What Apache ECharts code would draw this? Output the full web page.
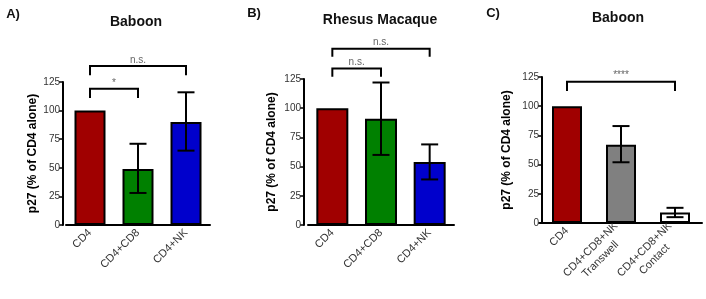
<!DOCTYPE html>
<html>
<head>
<meta charset="utf-8">
<script src="https://cdn.jsdelivr.net/npm/echarts@6/dist/echarts.min.js"></script>
<style>
  html, body { margin: 0; padding: 0; background: #fff; }
  #chart { width: 706px; height: 299px; }
</style>
</head>
<body>
<div id="chart"></div>
<script>
// panel A - baboon
const catsA = ['CD4', 'CD4+CD8', 'CD4+NK'];
const valuesA = [100, 49, 90];
const errA = [[1, 28, 71], [2, 65, 116]];          // [category, low, high]
const bracketsA = [[0, 2, 139, 131, 'n.s.'], [0, 1, 119, 111, '*']]; // [from, to, top, bottom, text]

// panel B - rhesus macaque
const catsB = ['CD4', 'CD4+CD8', 'CD4+NK'];
const valuesB = [100, 91, 54];
const errB = [[1, 60, 122], [2, 39, 69]];
const bracketsB = [[0, 2, 151, 144, 'n.s.'], [0, 1, 134, 127, 'n.s.']];

// panel C - baboon, transwell vs contact
const catsC = ['CD4', 'CD4+CD8+NK\nTranswell', 'CD4+CD8+NK\nContact'];
const valuesC = [100, 67, 9];
const errC = [[1, 52, 83], [2, 5, 13]];
const bracketsC = [[0, 2, 121, 113, '****']];

const yLabel = 'p27 (% of CD4 alone)';

const FONT = 'Liberation Sans, Arial, sans-serif';

const chart = echarts.init(document.getElementById('chart'));

function colored(vals, colors) {
  return vals.map((v, i) => ({ value: v, itemStyle: { color: colors[i] } }));
}

// error bar: vertical line + two caps
function renderErr(params, api) {
  const x = api.value(0);
  const top = api.coord([x, api.value(2)]);
  const bot = api.coord([x, api.value(1)]);
  const w = 8.5;
  const st = { stroke: '#000', lineWidth: 2 };
  return {
    type: 'group',
    children: [
      { type: 'line', shape: { x1: top[0], y1: top[1], x2: bot[0], y2: bot[1] }, style: st },
      { type: 'line', shape: { x1: top[0] - w, y1: top[1], x2: top[0] + w, y2: top[1] }, style: st },
      { type: 'line', shape: { x1: bot[0] - w, y1: bot[1], x2: bot[0] + w, y2: bot[1] }, style: st }
    ]
  };
}

// significance bracket
function makeBracketRender(list) {
  return function (params, api) {
    const b = list[params.dataIndex];
    const p1 = api.coord([b[0], b[3]]);
    const p2 = api.coord([b[0], b[2]]);
    const p3 = api.coord([b[1], b[2]]);
    const p4 = api.coord([b[1], b[3]]);
    return {
      type: 'group',
      children: [
        { type: 'polyline', shape: { points: [p1, p2, p3, p4] },
          style: { stroke: '#000', lineWidth: 2, fill: null } },
        { type: 'text', x: (p2[0] + p3[0]) / 2, y: p2[1] - 1,
          style: { text: b[4], textAlign: 'center', textVerticalAlign: 'bottom',
                   fill: '#666', font: '10px ' + FONT } }
      ]
    };
  };
}

// two-line labels: second line centred under the first
function splitLabel(v) {
  const parts = v.split('\n');
  if (parts.length < 2) return v;
  return '{a|' + parts[0] + '}\n{b|' + parts[1] + '}';
}

function xAx(idx, cats) {
  const lab = { fontSize: 11, color: '#333', fontFamily: FONT, lineHeight: 14 };
  return {
    type: 'category', gridIndex: idx, data: cats,
    axisLine: { lineStyle: { color: '#000', width: 2 } },
    axisTick: { alignWithLabel: true, length: 4, lineStyle: { color: '#000', width: 1.5 } },
    axisLabel: {
      rotate: 45, margin: 6, fontSize: 11, color: '#333', fontFamily: FONT, interval: 0,
      formatter: splitLabel,
      rich: { a: Object.assign({ align: 'center' }, lab), b: Object.assign({ align: 'center' }, lab) }
    }
  };
}

function yAx(idx, offset, gap) {
  return {
    type: 'value', gridIndex: idx, min: 0, max: 125, interval: 25, offset: offset,
    name: yLabel, nameLocation: 'middle', nameRotate: 90, nameGap: gap,
    nameTextStyle: { fontSize: 12, fontWeight: 'bold', color: '#000', fontFamily: FONT },
    axisLine: { show: true, lineStyle: { color: '#000', width: 2 } },
    axisTick: { show: true, length: 4, lineStyle: { color: '#000', width: 1.5 } },
    axisLabel: { fontSize: 10, color: '#333', margin: 3, fontFamily: FONT },
    splitLine: { show: false }
  };
}

function barSeries(idx, vals, colors, width) {
  return {
    type: 'bar', xAxisIndex: idx, yAxisIndex: idx, barWidth: width,
    data: colored(vals, colors),
    itemStyle: { borderColor: '#000', borderWidth: 2 },
    silent: true
  };
}

function errSeries(idx, data) {
  return { type: 'custom', xAxisIndex: idx, yAxisIndex: idx, renderItem: renderErr, data: data, z: 5, silent: true };
}

function bracketSeries(idx, list) {
  return { type: 'custom', xAxisIndex: idx, yAxisIndex: idx, renderItem: makeBracketRender(list),
           data: list.map(b => [b[0], b[2]]), clip: false, z: 5, silent: true };
}

function txt(x, y, text, size) {
  return { type: 'text', x: x, y: y,
           style: { text: text, textAlign: 'center', textVerticalAlign: 'middle',
                    font: 'bold ' + size + 'px ' + FONT, fill: '#111' } };
}

const option = {
  animation: false,
  graphic: [
    txt(13, 14, 'A)', 13), txt(136, 22, 'Baboon', 14),
    txt(254, 13, 'B)', 13), txt(380, 20, 'Rhesus Macaque', 14),
    txt(493, 13, 'C)', 13), txt(618, 18, 'Baboon', 14)
  ],
  grid: [
    { left: 66, top: 82, width: 144, height: 143 },
    { left: 308, top: 79, width: 146, height: 146 },
    { left: 540, top: 77, width: 162, height: 146 }
  ],
  xAxis: [xAx(0, catsA), xAx(1, catsB), xAx(2, catsC)],
  yAxis: [yAx(0, 3, 24), yAx(1, 4, 26), yAx(2, -2, 29)],
  series: [
    barSeries(0, valuesA, ['#a00000', '#008000', '#0000cc'], 31),
    errSeries(0, errA),
    bracketSeries(0, bracketsA),
    barSeries(1, valuesB, ['#a00000', '#008000', '#0000cc'], 32),
    errSeries(1, errB),
    bracketSeries(1, bracketsB),
    barSeries(2, valuesC, ['#a00000', '#808080', '#ffffff'], 30),
    errSeries(2, errC),
    bracketSeries(2, bracketsC)
  ]
};

chart.setOption(option);
</script>
</body>
</html>
